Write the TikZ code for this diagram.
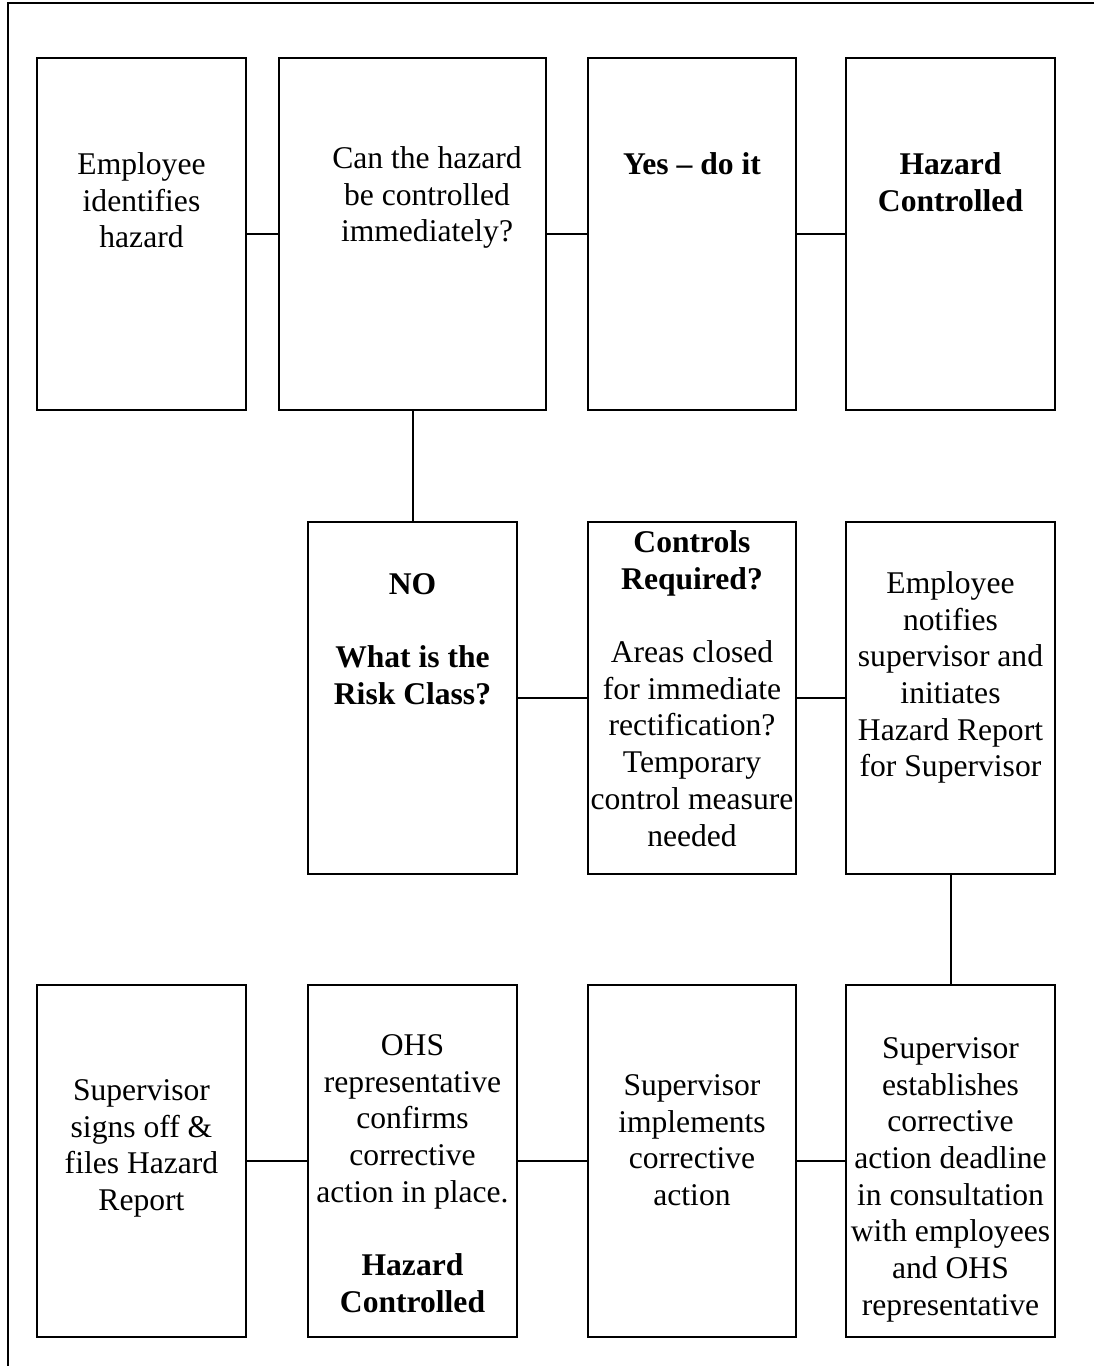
\documentclass[tikz,border=0pt]{standalone}
\usepackage{fontspec}
\setmainfont{Liberation Serif}
\tikzset{
  box/.style={draw, line width=1pt, inner sep=0pt, minimum width=104.5pt, minimum height=176pt},
  txt/.style={anchor=north, align=center, inner sep=0pt, font=\fontsize{15.8}{18.35}\selectfont},
  link/.style={line width=1pt},
}
\begin{document}
\begin{tikzpicture}[x=0.5pt, y=-0.5pt]
\useasboundingbox (0,0) rectangle (1094,1366);
% outer frame
\draw[line width=1pt] (1094,3) -- (7.5,3) -- (7.5,1366);
% top row
\node[box] (emp) at (141.5,234) {};
\node[box, minimum width=133.5pt] (canctl) at (412.5,234) {};
\node[box, minimum width=104pt] (yes) at (692,234) {};
\node[box] (ctldone) at (950.5,234) {};
\node[txt] (empT) at (141.5,148.3) {\strut Employee\\identifies\\hazard};
\node[txt] (canctlT) at (427,142.3) {\strut Can the hazard\\be controlled\\immediately?};
\node[txt] (yesT) at (692,148.3) {\strut\textbf{Yes -- do it}};
\node[txt] (ctldoneT) at (950.5,148.3) {\strut\textbf{Hazard}\\\textbf{Controlled}};
% middle row
\node[box] (risk) at (412.5,698) {};
\node[box, minimum width=104pt] (ctlreq) at (692,698) {};
\node[box] (notify) at (950.5,698) {};
\node[txt] (riskT) at (412.5,568.3) {\strut\textbf{NO}\\[18.35pt]\textbf{What is the}\\\textbf{Risk Class?}};
\node[txt] (ctlreqT) at (692,526.3) {\strut\textbf{Controls}\\\textbf{Required?}\\[18.35pt]Areas closed\\for immediate\\rectification?\\Temporary\\control measure\\needed};
\node[txt] (notifyT) at (950.5,567.3) {\strut Employee\\notifies\\supervisor and\\initiates\\Hazard Report\\for Supervisor};
% bottom row
\node[box] (signoff) at (141.5,1161) {};
\node[box] (confirm) at (412.5,1161) {};
\node[box, minimum width=104pt] (implement) at (692,1161) {};
\node[box] (deadline) at (950.5,1161) {};
\node[txt] (signoffT) at (141.5,1074.3) {\strut Supervisor\\signs off \&\\files Hazard\\Report};
\node[txt] (confirmT) at (412.5,1029.3) {\strut OHS\\representative\\confirms\\corrective\\action in place.\\[18.35pt]\textbf{Hazard}\\\textbf{Controlled}};
\node[txt] (implementT) at (692,1069.3) {\strut Supervisor\\implements\\corrective\\action};
\node[txt] (deadlineT) at (950.5,1032.3) {\strut Supervisor\\establishes\\corrective\\action deadline\\in consultation\\with employees\\and OHS\\representative};
% connectors
\draw[link] (emp) -- (canctl);
\draw[link] (canctl) -- (yes);
\draw[link] (yes) -- (ctldone);
\draw[link] (canctl.south) -- (risk.north);
\draw[link] (risk) -- (ctlreq);
\draw[link] (ctlreq) -- (notify);
\draw[link] (notify) -- (deadline);
\draw[link] (signoff) -- (confirm);
\draw[link] (confirm) -- (implement);
\draw[link] (implement) -- (deadline);
\end{tikzpicture}
\end{document}
